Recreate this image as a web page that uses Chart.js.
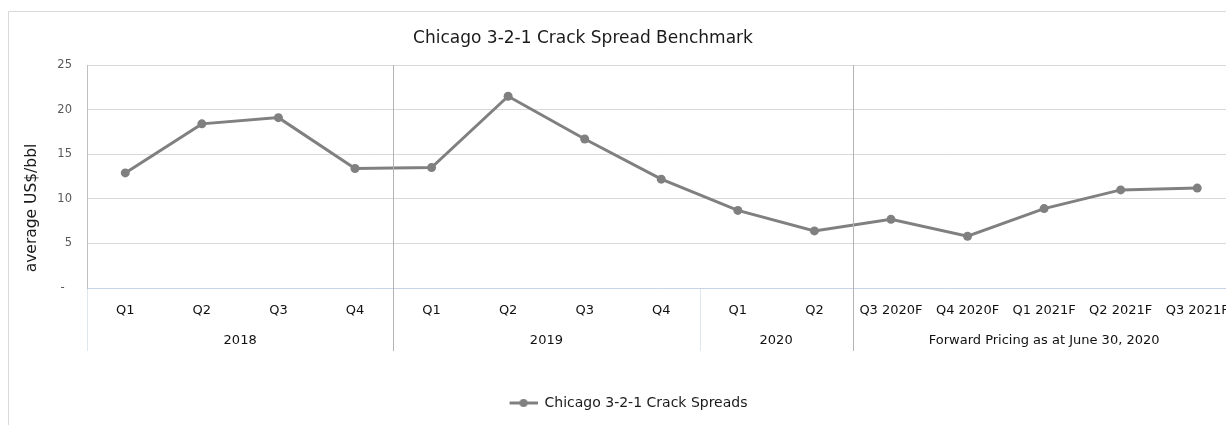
<!DOCTYPE html>
<html>
<head>
<meta charset="utf-8">
<title>Chicago 3-2-1 Crack Spread Benchmark</title>
<script src="https://cdn.jsdelivr.net/npm/chart.js@4.4.0/dist/chart.umd.min.js"></script>
<style>
  html, body { margin: 0; padding: 0; background: #fff; overflow: hidden; }
  #wrap { position: relative; width: 1244px; height: 425px; }
</style>
</head>
<body>
<div id="wrap"><canvas id="crackChart" width="1244" height="425"></canvas></div>
<script>
// quarterly categories
var quarters = ['Q1', 'Q2', 'Q3', 'Q4', 'Q1', 'Q2', 'Q3', 'Q4', 'Q1', 'Q2',
    'Q3 2020F', 'Q4 2020F', 'Q1 2021F', 'Q2 2021F', 'Q3 2021F'];
// average US$/bbl
var crackSpreads = [12.9, 18.4, 19.1, 13.4, 13.5, 21.5, 16.7, 12.2, 8.7, 6.4, 7.7, 5.8, 8.9, 11.0, 11.2];
// second level of the axis
var groupNames = ['2018', '2019', '2020', 'Forward Pricing as at June 30, 2020'];
var groupSizes = [4, 4, 2, 5];
var yTicks = [0, 5, 10, 15, 20, 25];

var FONT = "'DejaVu Sans', Verdana, sans-serif";

// group centres / boundaries in category index units
var groupCenters = [], groupEdges = [-0.5];
(function () {
    var start = 0;
    for (var i = 0; i < groupSizes.length; i++) {
        groupCenters.push(start + (groupSizes[i] - 1) / 2);
        start += groupSizes[i];
        groupEdges.push(start - 0.5);
    }
})();

// legend marker: line with a dot, like the excel one (left part left blank on purpose)
function legendMarker() {
    var c = document.createElement('canvas');
    c.width = 42; c.height = 10;
    var g = c.getContext('2d');
    g.strokeStyle = '#808080';
    g.lineWidth = 3;
    g.beginPath(); g.moveTo(14, 5); g.lineTo(42, 5); g.stroke();
    g.fillStyle = '#808080';
    g.beginPath(); g.arc(28, 5, 4, 0, Math.PI * 2); g.fill();
    return c;
}

var decorPlugin = {
    id: 'decor',
    beforeDraw: function (chart) {
        var ctx = chart.ctx, area = chart.chartArea;
        ctx.save();
        // outer frame
        ctx.strokeStyle = '#d9d9d9';
        ctx.lineWidth = 1;
        ctx.beginPath();
        ctx.moveTo(8.5, chart.height);
        ctx.lineTo(8.5, 11.5);
        ctx.lineTo(chart.width, 11.5);
        ctx.stroke();
        // title
        ctx.fillStyle = '#1a1a1a';
        ctx.font = '17px ' + FONT;
        ctx.textAlign = 'center';
        ctx.textBaseline = 'middle';
        ctx.fillText('Chicago 3-2-1 Crack Spread Benchmark', 583, 39);
        // y axis title, centred on plot + category labels like excel does
        ctx.font = '15.5px ' + FONT;
        ctx.translate(32, (area.top + area.bottom + 63) / 2);
        ctx.rotate(-Math.PI / 2);
        ctx.fillText('average US$/bbl', 0, 0);
        ctx.restore();
    },
    afterDraw: function (chart) {
        var ctx = chart.ctx, x = chart.scales.x, area = chart.chartArea;
        ctx.save();
        ctx.lineWidth = 1;
        for (var i = 0; i < groupEdges.length; i++) {
            var px = Math.round(x.getPixelForValue(groupEdges[i])) + 0.5;
            ctx.beginPath();
            if (i === 1 || i === 3) {
                ctx.strokeStyle = '#b3b3b3';
                ctx.moveTo(px, area.top);
            } else {
                ctx.strokeStyle = '#dde6f1';
                ctx.moveTo(px, area.bottom + 1);
            }
            ctx.lineTo(px, area.bottom + 63);
            ctx.stroke();
        }
        ctx.restore();
    }
};

var ctx = document.getElementById('crackChart').getContext('2d');
var crackChart = new Chart(ctx, {
    type: 'line',
    data: {
        labels: quarters,
        datasets: [{
            label: 'Chicago 3-2-1 Crack Spreads',
            data: crackSpreads,
            borderColor: '#808080',
            backgroundColor: '#808080',
            borderWidth: 3,
            pointRadius: 4.5,
            pointBorderWidth: 0,
            pointBackgroundColor: '#808080',
            pointStyle: 'circle',
            tension: 0
        }]
    },
    options: {
        responsive: false,
        animation: false,
        devicePixelRatio: 1,
        layout: { padding: { left: 0, right: 1, top: 65, bottom: 5 } },
        plugins: {
            title: { display: false },
            tooltip: { enabled: false },
            legend: {
                position: 'bottom',
                labels: {
                    usePointStyle: true,
                    pointStyle: legendMarker(),
                    pointStyleWidth: 42,
                    color: '#1a1a1a',
                    font: { family: FONT, size: 14 },
                    padding: 10
                }
            }
        },
        scales: {
            x: {
                type: 'category',
                offset: true,
                grid: { display: false, drawTicks: false },
                border: { display: true, color: '#c6d4e6', width: 1 },
                ticks: {
                    color: '#111111',
                    font: { family: FONT, size: 13 },
                    padding: 15,
                    autoSkip: false,
                    maxRotation: 0
                },
                afterFit: function (s) { s.height = 37; }
            },
            groups: {
                type: 'linear',
                position: 'bottom',
                weight: 1,
                min: -0.5,
                max: quarters.length - 0.5,
                grid: { display: false, drawTicks: false },
                border: { display: false },
                afterBuildTicks: function (s) {
                    s.ticks = groupCenters.map(function (v) { return { value: v }; });
                },
                ticks: {
                    color: '#111111',
                    font: { family: FONT, size: 13 },
                    padding: 8,
                    autoSkip: false,
                    maxRotation: 0,
                    callback: function (v, i) { return groupNames[i]; }
                },
                afterFit: function (s) { s.height = 61; }
            },
            y: {
                min: 0,
                max: 25,
                afterBuildTicks: function (s) {
                    s.ticks = yTicks.map(function (v) { return { value: v }; });
                },
                grid: {
                    drawTicks: false,
                    color: function (c) { return c.tick && c.tick.value === 0 ? 'rgba(0,0,0,0)' : '#d9d9d9'; }
                },
                border: { display: true, color: '#bfbfbf' },
                ticks: {
                    color: '#595959',
                    font: { family: FONT, size: 11.5 },
                    padding: 15,
                    callback: function (v) { return v === 0 ? '-  ' : v; }
                },
                title: { display: false },
                afterFit: function (s) { s.width = 87; }
            }
        }
    },
    plugins: [decorPlugin]
});
</script>
</body>
</html>
